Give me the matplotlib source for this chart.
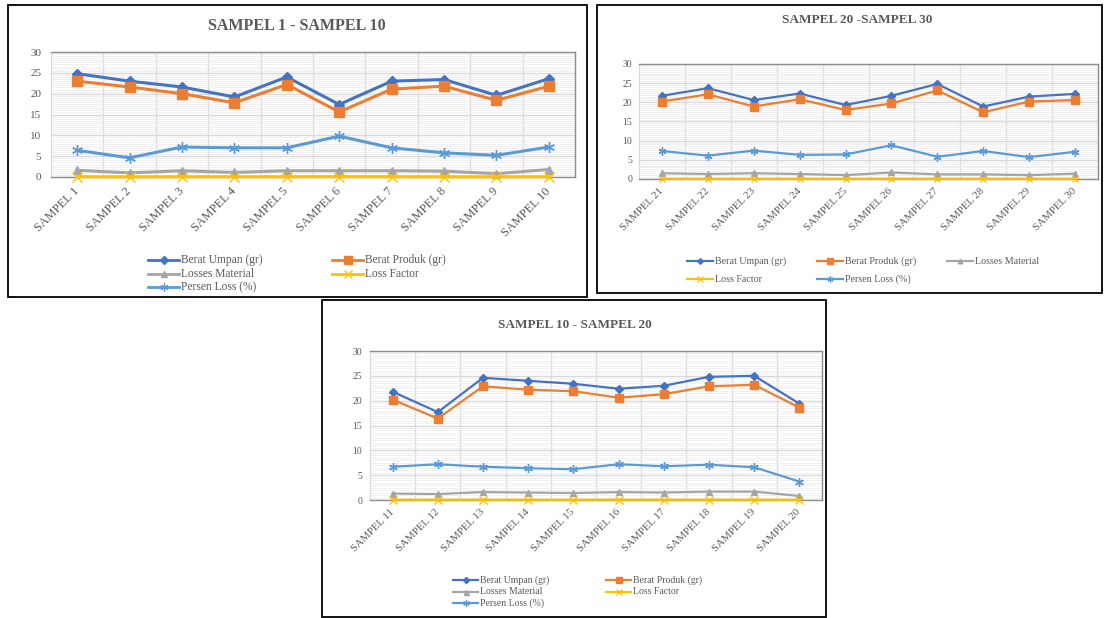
import matplotlib
matplotlib.use("Agg")
import matplotlib.pyplot as plt
from matplotlib.lines import Line2D
from matplotlib.patches import Rectangle
import numpy as np

W, H, DPI = 1107, 618, 100

SERIES = ["Berat Umpan (gr)", "Berat Produk (gr)", "Losses Material",
          "Loss Factor", "Persen Loss (%)"]

# ---- SAMPEL 1 - SAMPEL 10 ----
cats_1_10 = ["SAMPEL 1", "SAMPEL 2", "SAMPEL 3", "SAMPEL 4", "SAMPEL 5",
             "SAMPEL 6", "SAMPEL 7", "SAMPEL 8", "SAMPEL 9", "SAMPEL 10"]
umpan_1_10 = [24.8, 23.0, 21.6, 19.2, 24.0, 17.4, 23.0, 23.4, 19.6, 23.6]
produk_1_10 = [23.0, 21.6, 20.0, 17.8, 22.2, 15.6, 21.1, 21.8, 18.4, 21.8]
losses_1_10 = [1.6, 1.0, 1.5, 1.1, 1.5, 1.5, 1.5, 1.4, 0.8, 1.8]
factor_1_10 = [0.07, 0.05, 0.07, 0.07, 0.07, 0.10, 0.07, 0.06, 0.05, 0.07]
persen_1_10 = [6.4, 4.6, 7.2, 7.0, 7.0, 9.8, 7.0, 5.8, 5.2, 7.2]

# ---- SAMPEL 11 - SAMPEL 20 ----
cats_11_20 = ["SAMPEL 11", "SAMPEL 12", "SAMPEL 13", "SAMPEL 14", "SAMPEL 15",
              "SAMPEL 16", "SAMPEL 17", "SAMPEL 18", "SAMPEL 19", "SAMPEL 20"]
umpan_11_20 = [21.8, 17.7, 24.6, 24.0, 23.4, 22.4, 23.0, 24.8, 25.0, 19.4]
produk_11_20 = [20.2, 16.4, 22.9, 22.2, 21.9, 20.6, 21.3, 22.9, 23.2, 18.6]
losses_11_20 = [1.3, 1.2, 1.6, 1.5, 1.4, 1.6, 1.5, 1.7, 1.7, 0.8]
factor_11_20 = [0.07, 0.07, 0.07, 0.06, 0.06, 0.07, 0.07, 0.07, 0.07, 0.04]
persen_11_20 = [6.7, 7.2, 6.7, 6.4, 6.2, 7.2, 6.8, 7.1, 6.6, 3.7]

# ---- SAMPEL 21 - SAMPEL 30 ----
cats_21_30 = ["SAMPEL 21", "SAMPEL 22", "SAMPEL 23", "SAMPEL 24", "SAMPEL 25",
              "SAMPEL 26", "SAMPEL 27", "SAMPEL 28", "SAMPEL 29", "SAMPEL 30"]
umpan_21_30 = [21.7, 23.7, 20.6, 22.3, 19.3, 21.7, 24.8, 18.9, 21.5, 22.2]
produk_21_30 = [20.2, 22.1, 18.9, 20.8, 18.0, 19.7, 23.1, 17.4, 20.2, 20.6]
losses_21_30 = [1.5, 1.3, 1.5, 1.3, 1.0, 1.7, 1.2, 1.2, 1.0, 1.4]
factor_21_30 = [0.07, 0.06, 0.07, 0.06, 0.06, 0.09, 0.06, 0.07, 0.06, 0.07]
persen_21_30 = [7.3, 6.1, 7.4, 6.3, 6.4, 8.8, 5.8, 7.3, 5.7, 7.1]

COLORS = {"Berat Umpan (gr)": "#4472C4", "Berat Produk (gr)": "#ED7D31",
          "Losses Material": "#A5A5A5", "Loss Factor": "#FFC000",
          "Persen Loss (%)": "#5B9BD5"}
MARKERS = {"Berat Umpan (gr)": "D", "Berat Produk (gr)": "s",
           "Losses Material": "^", "Loss Factor": "x",
           "Persen Loss (%)": (6, 2, 0)}
MSCALE = {"Berat Umpan (gr)": 0.7, "Berat Produk (gr)": 1.0,
          "Losses Material": 0.8, "Loss Factor": 0.9,
          "Persen Loss (%)": 1.05}

SERIF = "Liberation Serif"
TXT = "#595959"

fig = plt.figure(figsize=(W / DPI, H / DPI), dpi=DPI)
fig.patch.set_facecolor("white")


def frac_rect(x0, y0, x1, y1):
    return [x0 / W, 1 - y1 / H, (x1 - x0) / W, (y1 - y0) / H]


def series_style(name, ms, lw, mew=1.2):
    kw = dict(color=COLORS[name], marker=MARKERS[name], lw=lw,
              ms=ms * MSCALE[name], solid_joinstyle="round")
    if name in ("Loss Factor", "Persen Loss (%)"):
        kw["mew"] = mew
    else:
        kw["mec"] = COLORS[name]
    return kw


def draw_panel(box, plot, title, title_pos, title_fs, cats, values, ms, lw,
               ytick_fs, ypad, xtick_fs, xpad, legend_items, legend_fs,
               handle_len, legend_lw):
    fig.add_artist(Rectangle((box[0] / W, 1 - box[3] / H),
                             (box[2] - box[0]) / W, (box[3] - box[1]) / H,
                             transform=fig.transFigure, fill=False,
                             ec="black", lw=1.3, zorder=5))
    fig.text(title_pos[0] / W, 1 - title_pos[1] / H, title, ha="center",
             va="center", fontsize=title_fs, fontweight="bold",
             family=SERIF, color=TXT)

    ax = fig.add_axes(frac_rect(*plot))
    n = len(cats)
    x = np.arange(n)
    for z, (name, vals) in enumerate(zip(SERIES, values)):
        ax.plot(x, vals, zorder=3 + z, clip_on=False,
                **series_style(name, ms, lw, mew=1.0))

    ax.set_xlim(-0.5, n - 0.5)
    ax.set_ylim(0, 30)
    ax.set_yticks(range(0, 31, 5))
    ax.set_yticks(np.arange(0, 30, 0.5), minor=True)
    ax.set_xticks(x)
    ax.set_xticks(np.arange(0.5, n - 1, 1.0), minor=True)
    ax.yaxis.grid(True, which="minor", color="#eeeeee", lw=0.6)
    ax.yaxis.grid(True, which="major", color="#d9d9d9", lw=1.0)
    ax.xaxis.grid(True, which="minor", color="#d9d9d9", lw=1.0)
    ax.xaxis.grid(False, which="major")
    ax.set_axisbelow(True)

    for side in ("top", "right", "bottom"):
        ax.spines[side].set_color("#8c8c8c")
        ax.spines[side].set_linewidth(1.0)
    ax.spines["left"].set_color("#d9d9d9")

    ax.tick_params(which="both", length=0)
    ax.tick_params(axis="y", labelsize=ytick_fs, labelcolor=TXT, pad=ypad)
    for lab in ax.get_yticklabels():
        lab.set_family(SERIF)
    ax.set_xticklabels(cats, rotation=45, ha="right", va="center",
                       rotation_mode="anchor", family=SERIF,
                       fontsize=xtick_fs, color=TXT)
    ax.tick_params(axis="x", pad=xpad)

    # legend entries placed on a grid below the plot
    for name, (lx, ly) in legend_items:
        xs = [lx / W, (lx + handle_len / 2) / W, (lx + handle_len) / W]
        ys = [1 - ly / H] * 3
        st = series_style(name, ms * 0.75, legend_lw, mew=0.9)
        fig.add_artist(Line2D(xs, ys, transform=fig.transFigure,
                              markevery=[1], **st))
        fig.text((lx + handle_len + 2) / W, 1 - ly / H, name, ha="left",
                 va="center", family=SERIF, fontsize=legend_fs, color=TXT)
    return ax


# SAMPEL 1 - SAMPEL 10 (top left)
draw_panel(box=(8, 5, 587, 297), plot=(51, 52, 575, 177),
           title="SAMPEL 1 - SAMPEL 10", title_pos=(297, 26), title_fs=11.5,
           cats=cats_1_10,
           values=[umpan_1_10, produk_1_10, losses_1_10, factor_1_10,
                   persen_1_10],
           ms=7.5, lw=2.2, ytick_fs=8, ypad=7, xtick_fs=8.8, xpad=9,
           legend_items=[("Berat Umpan (gr)", (148, 260)),
                         ("Berat Produk (gr)", (332, 260)),
                         ("Losses Material", (148, 274)),
                         ("Loss Factor", (332, 274)),
                         ("Persen Loss (%)", (148, 287))],
           legend_fs=8.3, handle_len=31, legend_lw=2.0)

# SAMPEL 20 - SAMPEL 30 (top right)
draw_panel(box=(597, 5, 1102, 293), plot=(639, 64, 1098, 179),
           title="SAMPEL 20 -SAMPEL 30", title_pos=(857, 20), title_fs=9.5,
           cats=cats_21_30,
           values=[umpan_21_30, produk_21_30, losses_21_30, factor_21_30,
                   persen_21_30],
           ms=5.5, lw=1.6, ytick_fs=7, ypad=5, xtick_fs=7.8, xpad=7.5,
           legend_items=[("Berat Umpan (gr)", (687, 261)),
                         ("Berat Produk (gr)", (817, 261)),
                         ("Losses Material", (947, 261)),
                         ("Loss Factor", (687, 279)),
                         ("Persen Loss (%)", (817, 279))],
           legend_fs=7.2, handle_len=26, legend_lw=1.6)

# SAMPEL 10 - SAMPEL 20 (bottom centre)
draw_panel(box=(322, 300, 826, 617), plot=(370, 351, 822, 500),
           title="SAMPEL 10 - SAMPEL 20", title_pos=(575, 325), title_fs=9.5,
           cats=cats_11_20,
           values=[umpan_11_20, produk_11_20, losses_11_20, factor_11_20,
                   persen_11_20],
           ms=6, lw=1.6, ytick_fs=7, ypad=5.5, xtick_fs=7.8, xpad=7.5,
           legend_items=[("Berat Umpan (gr)", (453, 580)),
                         ("Berat Produk (gr)", (606, 580)),
                         ("Losses Material", (453, 592)),
                         ("Loss Factor", (606, 592)),
                         ("Persen Loss (%)", (453, 603))],
           legend_fs=7, handle_len=25, legend_lw=1.6)

fig.savefig("out.png", dpi=DPI, facecolor="white")
